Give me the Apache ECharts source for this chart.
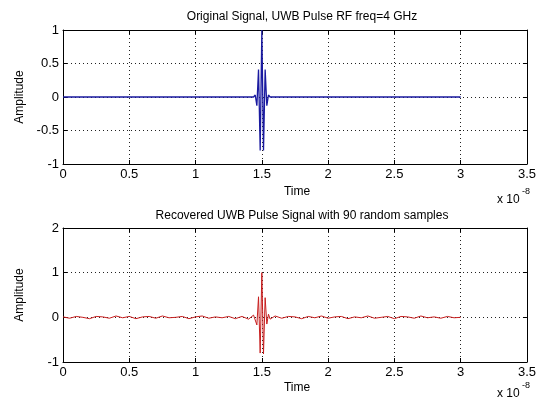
<!DOCTYPE html>
<html>
<head>
<meta charset="utf-8">
<script src="https://cdn.jsdelivr.net/npm/echarts@6/dist/echarts.min.js"></script>
<style>
html,body{margin:0;padding:0;background:#fff;}
#c{width:539px;height:403px;}
</style>
</head>
<body>
<div id="c"></div>
<script>
// Time axis values in units of 1e-8 s
var xTicks = [0, 0.5, 1, 1.5, 2, 2.5, 3, 3.5];
var yTicksTop = [-1, -0.5, 0, 0.5, 1];
var yTicksBottom = [-1, 0, 1, 2];

var titleTop = 'Original Signal, UWB Pulse RF freq=4 GHz';
var titleBottom = 'Recovered UWB Pulse Signal with 90 random samples';

// Original signal: [time (x1e-8 s), amplitude]
var originalTime = [0, 1.4375, 1.45, 1.4625, 1.475, 1.4875, 1.5, 1.5125, 1.525, 1.5375, 1.55, 1.5625, 3];
var originalAmp  = [0, 0, 0.03, -0.13, 0.41, -0.8, 1, -0.8, 0.41, -0.13, 0.03, 0, 0];

// Recovered signal: [time (x1e-8 s), amplitude]
var recoveredTime = [
  0, 0.05, 0.1, 0.15, 0.2, 0.25, 0.3, 0.35, 0.4, 0.45, 0.5, 0.55, 0.6, 0.65, 0.7,
  0.75, 0.8, 0.85, 0.9, 0.95, 1.0, 1.05, 1.1, 1.15, 1.2, 1.25, 1.3, 1.35, 1.4,
  1.4375, 1.45, 1.4625, 1.475, 1.4875, 1.5, 1.5125, 1.525, 1.5375, 1.55, 1.5625,
  1.6, 1.65, 1.7, 1.75, 1.8, 1.85, 1.9, 1.95, 2.0, 2.05, 2.1, 2.15, 2.2, 2.25,
  2.3, 2.35, 2.4, 2.45, 2.5, 2.55, 2.6, 2.65, 2.7, 2.75, 2.8, 2.85, 2.9, 2.95, 3.0
];
var recoveredAmp = [
  0.01, -0.02, 0.02, 0.0, -0.03, 0.02, 0.01, -0.02, 0.03, -0.01, 0.02, -0.03, 0.01, 0.02, -0.02,
  0.03, -0.01, 0.0, 0.02, -0.03, 0.01, 0.03, -0.02, 0.01, -0.01, 0.02, -0.03, 0.02, -0.04,
  0.05, 0.08, -0.17, 0.46, -0.8, 1.0, -0.82, 0.44, -0.15, 0.07, -0.04,
  0.03, -0.02, 0.02, 0.01, -0.03, 0.02, -0.01, 0.03, -0.02, 0.01, 0.02, -0.03, 0.01, -0.01,
  0.03, -0.02, 0.0, 0.02, -0.03, 0.02, 0.01, -0.02, 0.03, -0.01, 0.01, -0.02, 0.02, -0.01, 0.0
];

function pairs(t, v) { return t.map(function (x, i) { return [x, v[i]]; }); }

var FONT = "'Liberation Sans', Arial, sans-serif";
var GL = 63, GW = 469, GH = 134;
var tops = [30, 228];

function xAx(gi, main) {
  return {
    type: 'value', gridIndex: gi, min: 0, max: 3.5, interval: 0.5,
    position: main ? 'bottom' : 'top',
    axisLine: { show: true, onZero: false, lineStyle: { color: '#000', width: 1 } },
    axisTick: { show: true, inside: true, length: 4, lineStyle: { color: '#000' } },
    axisLabel: main ? { show: true, color: '#000', fontFamily: FONT, fontSize: 13, margin: 4,
      formatter: function (v) { return String(v); } } : { show: false },
    splitLine: main ? { show: true, lineStyle: { color: '#222', type: [1, 3], width: 1 } } : { show: false }
  };
}
function yAx(gi, main, min, max, interval) {
  return {
    type: 'value', gridIndex: gi, min: min, max: max, interval: interval,
    position: main ? 'left' : 'right',
    axisLine: { show: true, onZero: false, lineStyle: { color: '#000', width: 1 } },
    axisTick: { show: true, inside: true, length: 4, lineStyle: { color: '#000' } },
    axisLabel: main ? { show: true, color: '#000', fontFamily: FONT, fontSize: 13, margin: 4,
      formatter: function (v) { return String(v); } } : { show: false },
    splitLine: main ? { show: true, lineStyle: { color: '#222', type: [1, 3], width: 1 } } : { show: false }
  };
}

var chart = echarts.init(document.getElementById('c'), null, { renderer: 'canvas' });
chart.setOption({
  animation: false,
  backgroundColor: '#fff',
  title: [
    { text: titleTop, left: 297, top: 6, textAlign: 'center',
      textStyle: { fontFamily: FONT, fontSize: 12, fontWeight: 'normal', color: '#000' } },
    { text: titleBottom, left: 297, top: 205, textAlign: 'center',
      textStyle: { fontFamily: FONT, fontSize: 12, fontWeight: 'normal', color: '#000' } }
  ],
  grid: [
    { left: GL, top: tops[0], width: GW, height: GH, show: false },
    { left: GL, top: tops[1], width: GW, height: GH, show: false }
  ],
  xAxis: [xAx(0, true), xAx(0, false), xAx(1, true), xAx(1, false)],
  yAxis: [yAx(0, true, -1, 1, 0.5), yAx(0, false, -1, 1, 0.5), yAx(1, true, -1, 2, 1), yAx(1, false, -1, 2, 1)],
  graphic: [
    { type: 'text', position: [20, 97], rotation: Math.PI / 2, style: { text: 'Amplitude', font: '12px ' + FONT, fill: '#000', textAlign: 'center', textVerticalAlign: 'middle' } },
    { type: 'text', position: [20, 295], rotation: Math.PI / 2, style: { text: 'Amplitude', font: '12px ' + FONT, fill: '#000', textAlign: 'center', textVerticalAlign: 'middle' } },
    { type: 'text', position: [297, 192], style: { text: 'Time', font: '12px ' + FONT, fill: '#000', textAlign: 'center', textVerticalAlign: 'middle' } },
    { type: 'text', position: [297, 388], style: { text: 'Time', font: '12px ' + FONT, fill: '#000', textAlign: 'center', textVerticalAlign: 'middle' } },
    { type: 'text', position: [497, 200], style: { text: 'x 10', font: '12px ' + FONT, fill: '#000', textAlign: 'left', textVerticalAlign: 'middle' } },
    { type: 'text', position: [522, 192], style: { text: '-8', font: '9px ' + FONT, fill: '#000', textAlign: 'left', textVerticalAlign: 'middle' } },
    { type: 'text', position: [497, 394], style: { text: 'x 10', font: '12px ' + FONT, fill: '#000', textAlign: 'left', textVerticalAlign: 'middle' } },
    { type: 'text', position: [522, 386], style: { text: '-8', font: '9px ' + FONT, fill: '#000', textAlign: 'left', textVerticalAlign: 'middle' } }
  ],
  series: [
    { type: 'line', xAxisIndex: 0, yAxisIndex: 0, data: pairs(originalTime, originalAmp),
      showSymbol: false, lineStyle: { color: '#1a1aa0', width: 1.3 }, silent: true },
    { type: 'line', xAxisIndex: 2, yAxisIndex: 2, data: pairs(recoveredTime, recoveredAmp),
      showSymbol: false, lineStyle: { color: '#c81e1e', width: 1 }, silent: true }
  ]
});
</script>
</body>
</html>
